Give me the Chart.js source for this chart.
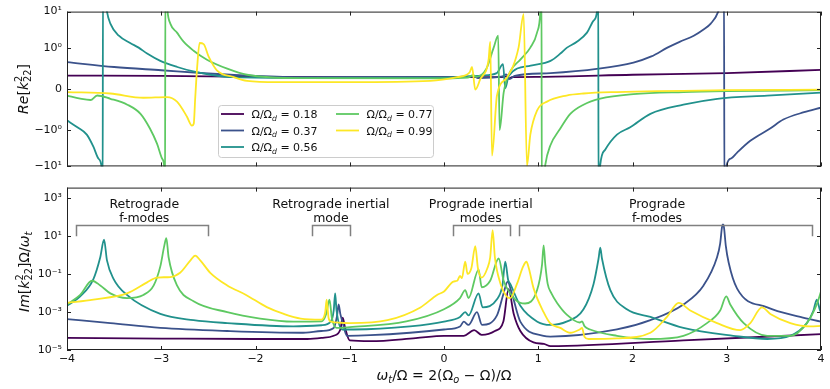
<!DOCTYPE html>
<html>
<head>
<meta charset="utf-8">
<script src="https://cdn.jsdelivr.net/npm/chart.js@4.4.1/dist/chart.umd.min.js"></script>
<style>
  html, body { margin: 0; padding: 0; background: #fff; }
  #wrap { position: relative; width: 830px; height: 389px; }
  #chartRe { position: absolute; left: 0; top: 0; }
  #chartIm { position: absolute; left: 0; top: 176px; }
</style>
</head>
<body>
<div id="wrap">
  <canvas id="chartRe" width="830" height="178"></canvas>
  <canvas id="chartIm" width="830" height="213"></canvas>
</div>
<script>
// ---- data ----
const omegaRatios = [0.18, 0.37, 0.56, 0.77, 0.99];

const xTicks = [-4, -3, -2, -1, 0, 1, 2, 3, 4];
const reTicks = [-10, -1, 0, 1, 10];
const reTickLabels = ['\u221210\u00b9', '\u221210\u2070', '0', '10\u2070', '10\u00b9'];
const imTicks = [1e-5, 1e-3, 1e-1, 1e1, 1e3];
const imTickLabels = ['10\u207b\u2075', '10\u207b\u00b3', '10\u207b\u00b9', '10\u00b9', '10\u00b3'];

// Re[k22] (top panel), [x, y]
const re018 = [[-4,0.33],[-3,0.32],[-2,0.30],[-1,0.29],[0,0.29],[0.6,0.29],[0.66,0.31],[0.69,0.25],[0.72,0.29],[1,0.30],[2,0.35],[3,0.39],[4,0.47]];
const re037 = [[-4,0.66],[-3.5,0.54],[-3,0.46],[-2.5,0.38],[-2,0.32],[-1.5,0.29],[0,0.29],[0.32,0.31],[0.36,0.27],[0.62,0.31],[0.66,0.36],[0.70,0.25],[0.75,0.32],[1.13,0.39],[1.64,0.5],[2.01,0.65],[2.2,0.8],[2.37,1.04],[2.5,1.5],[2.65,2.2],[2.75,3.2],[2.83,4.7],[2.91,10],[2.95,25],[2.970,80],[2.976,-80],[3.0,-9],[3.05,-6],[3.11,-4.2],[3.25,-2.0],[3.46,-0.97],[3.6,-0.75],[3.82,-0.57],[4.0,-0.46]];
const re056 = [[-4,-0.77],[-3.89,-0.94],[-3.79,-1.36],[-3.72,-2.9],[-3.665,-6.2],[-3.63,-12],[-3.622,-80],[-3.618,80],[-3.576,10],[-3.54,4.7],[-3.45,2.2],[-3.33,1.39],[-3.24,1.04],[-3.15,0.87],[-3.01,0.69],[-2.83,0.54],[-2.66,0.43],[-2.48,0.35],[-2.23,0.29],[-1.5,0.27],[0,0.28],[0.4,0.33],[0.56,0.39],[0.626,0.61],[0.65,0.02],[0.686,0.32],[0.92,0.575],[1.13,0.69],[1.235,0.87],[1.305,1.04],[1.41,1.51],[1.517,2.67],[1.587,5.7],[1.623,10],[1.636,80],[1.640,-80],[1.658,-9],[1.71,-3.5],[1.835,-1.36],[1.976,-0.94],[2.19,-0.61],[2.54,-0.385],[2.9,-0.24],[3.43,-0.164],[4.0,-0.09]];
const re077 = [[-4,-0.164],[-3.86,-0.237],[-3.75,-0.27],[-3.68,-0.16],[-3.54,-0.24],[-3.36,-0.385],[-3.22,-0.61],[-3.12,-0.97],[-3.045,-2.4],[-2.99,-6.2],[-2.968,-10.5],[-2.960,-80],[-2.956,80],[-2.933,10],[-2.904,4.7],[-2.833,2.67],[-2.763,1.51],[-2.657,0.94],[-2.515,0.72],[-2.3,0.5],[-2.09,0.35],[-1.52,0.265],[0,0.26],[0.25,0.28],[0.31,0.34],[0.34,0.3],[0.45,0.5],[0.527,1.04],[0.575,2.2],[0.59,-1.02],[0.633,-0.09],[0.703,0.43],[0.81,0.72],[0.916,1.04],[0.987,2.67],[1.022,10],[1.034,80],[1.038,-80],[1.075,-9],[1.128,-2.7],[1.234,-0.97],[1.34,-0.61],[1.48,-0.385],[1.658,-0.237],[2.01,-0.126],[2.54,-0.075],[3.0,-0.053],[4.0,-0.03]];
const re099 = [[-4,-0.075],[-3.54,-0.11],[-3.19,-0.215],[-2.94,-0.2],[-2.833,-0.31],[-2.727,-0.68],[-2.674,-0.9],[-2.655,-0.85],[-2.64,-0.24],[-2.62,0.5],[-2.593,1.39],[-2.55,1.3],[-2.498,0.8],[-2.41,0.46],[-2.23,0.29],[-2.09,0.2],[-1.77,0.17],[-1,0.17],[-0.145,0.2],[0.138,0.29],[0.27,0.4],[0.297,0.54],[0.332,-0.015],[0.385,0.24],[0.473,0.72],[0.491,1.51],[0.509,-5.1],[0.562,-0.16],[0.668,0.28],[0.791,1.04],[0.845,8.5],[0.88,-9.5],[0.916,-1.36],[0.987,-0.53],[1.093,-0.31],[1.3,-0.16],[1.48,-0.11],[1.835,-0.075],[3,-0.03],[4,-0.015]];

// Im[k22] Omega/omega_t (bottom panel), [x, y]
const im018 = [[-4,4.3e-5],[-3,4.0e-5],[-2,3.8e-5],[-1.45,3.8e-5],[-1.3,4.3e-5],[-1.17,5.6e-5],[-1.1,1.2e-4],[-1.075,5.0e-4],[-1.05,1.5e-4],[-1.0,3.2e-5],[-0.78,2.9e-5],[-0.3,4.2e-5],[0,5.5e-5],[0.21,5.6e-5],[0.32,1.1e-4],[0.4,6.3e-5],[0.54,1.0e-4],[0.63,3.2e-4],[0.685,1.6e-2],[0.74,7.9e-4],[0.81,1.0e-4],[0.95,2.5e-5],[1.06,2.1e-5],[1.13,1.6e-5],[2.54,3.2e-5],[4,6.8e-5]];
const im037 = [[-4,4.2e-4],[-3.54,2.6e-4],[-3.01,1.45e-4],[-2.3,1.0e-4],[-1.52,8.1e-5],[-1.3,1.0e-4],[-1.17,1.45e-4],[-1.135,6.3e-4],[-1.118,2.5e-3],[-1.1,7.9e-4],[-1.082,3.7e-4],[-1.03,5.6e-5],[-0.78,6.0e-5],[-0.36,8.1e-5],[0,1.2e-4],[0.17,1.74e-4],[0.21,3.1e-4],[0.26,2.1e-4],[0.35,9.8e-4],[0.403,2.1e-4],[0.562,6.6e-4],[0.632,9.5e-3],[0.675,4.0e-2],[0.72,9.5e-3],[0.81,3.1e-4],[1.057,5.6e-5],[1.128,5.1e-5],[1.835,1.2e-4],[2.19,3.7e-4],[2.54,2.5e-3],[2.754,2.5e-2],[2.897,0.76],[2.93,4],[2.95,30],[2.96,40],[2.97,30],[2.99,3],[3.02,0.4],[3.11,1.7e-2],[3.43,1.74e-3],[3.78,5.5e-4],[4.0,3.1e-4]];
const im056 = [[-4,2.1e-3],[-3.86,6.6e-3],[-3.72,5.4e-2],[-3.647,0.76],[-3.607,6.3],[-3.576,0.52],[-3.505,5.4e-2],[-3.364,7.9e-3],[-3.01,7.9e-4],[-2.657,3.7e-4],[-2.3,2.6e-4],[-1.6,1.74e-4],[-1.3,2.0e-4],[-1.2,3.2e-4],[-1.17,1.2e-3],[-1.155,9.5e-3],[-1.14,1.2e-3],[-1.08,1.2e-4],[-0.96,1.2e-4],[-0.36,1.74e-4],[0,3.1e-4],[0.17,5.5e-4],[0.225,9.8e-4],[0.26,6.6e-4],[0.367,9.5e-3],[0.41,1.74e-3],[0.56,4.5e-3],[0.62,2.5e-2],[0.65,0.44],[0.68,5.0e-2],[0.703,3.0e-2],[0.81,2.1e-3],[0.99,3.1e-4],[1.13,2.1e-4],[1.3,3.1e-4],[1.48,1.4e-3],[1.587,3.0e-2],[1.64,0.65],[1.658,2.4],[1.676,0.65],[1.765,1.4e-2],[1.94,1.4e-3],[2.19,5.5e-4],[2.54,1.45e-4],[3.07,5.6e-5],[3.43,3.8e-5],[3.675,5.6e-5],[3.85,2.6e-4],[3.92,1.2e-3],[3.955,4.5e-3],[3.99,1.2e-3],[4.0,1.0e-3]];
const im077 = [[-4,2.5e-3],[-3.86,7.9e-3],[-3.735,4.4e-2],[-3.647,2.5e-2],[-3.54,9.5e-3],[-3.364,5.4e-3],[-3.19,7.9e-3],[-3.08,2.5e-2],[-3.01,0.25],[-2.968,3.0],[-2.946,7.6],[-2.922,0.76],[-2.833,2.5e-2],[-2.657,3.7e-3],[-2.3,9.8e-4],[-1.95,4.5e-4],[-1.6,3.1e-4],[-1.3,3.2e-4],[-1.25,7.9e-4],[-1.215,4.5e-3],[-1.19,5.0e-4],[-1.14,1.45e-4],[-1.0,1.6e-4],[-0.4,3.2e-4],[0,1.4e-3],[0.17,5.4e-3],[0.225,1.4e-2],[0.26,5.4e-3],[0.367,0.17],[0.4,2.0e-2],[0.49,4.4e-2],[0.58,0.65],[0.633,4.4e-2],[0.703,9.5e-3],[0.81,3.0e-3],[0.86,2.8e-3],[0.987,1.4e-2],[1.04,0.3],[1.057,3.2],[1.075,0.3],[1.1,3.0e-2],[1.14,9.5e-3],[1.2,3.0e-3],[1.305,7.1e-4],[1.44,2.8e-4],[1.465,3.2e-4],[1.49,1.8e-4],[1.55,1.2e-4],[1.835,5.6e-5],[2.19,3.8e-5],[2.54,5.6e-5],[2.79,2.6e-4],[2.93,1.2e-3],[2.995,6.6e-3],[3.037,2.5e-3],[3.18,2.6e-4],[3.43,5.6e-5],[3.675,5.6e-5],[3.85,2.6e-4],[3.955,2.5e-3],[4.0,1.2e-2]];
const im099 = [[-4,3.0e-3],[-3.72,4.5e-3],[-3.364,9.5e-3],[-3.15,3.6e-2],[-3.045,6.5e-2],[-2.904,6.9e-2],[-2.8,0.115],[-2.69,0.52],[-2.64,0.93],[-2.586,0.52],[-2.48,0.115],[-2.3,2.5e-2],[-2.1,7.9e-3],[-1.88,1.8e-3],[-1.7,7.9e-4],[-1.52,4.5e-4],[-1.3,4.0e-4],[-1.26,1.0e-3],[-1.245,4.5e-3],[-1.225,5.0e-4],[-1.2,3.1e-4],[-1.0,2.6e-4],[-0.6,3.7e-4],[-0.25,1.74e-3],[-0.074,7.9e-3],[0,1.2e-2],[0.1,4.0e-2],[0.14,4.4e-2],[0.17,7.8e-2],[0.19,6.0e-2],[0.225,0.44],[0.25,0.1],[0.29,0.2],[0.332,2.9],[0.36,0.2],[0.4,6.5e-2],[0.46,0.2],[0.49,0.74],[0.516,20],[0.54,0.74],[0.6,3.0e-2],[0.66,7.0e-3],[0.703,5.4e-3],[0.774,3.0e-2],[0.84,0.25],[0.874,0.44],[0.9,0.2],[0.95,1.8e-2],[1.057,9.8e-4],[1.125,2.6e-4],[1.234,1.45e-4],[1.34,8.1e-5],[1.44,1.2e-4],[1.465,1.45e-4],[1.49,5.0e-5],[1.534,3.8e-5],[1.835,4.1e-5],[2.19,8.1e-5],[2.366,5.5e-4],[2.49,3.0e-3],[2.613,1.2e-3],[2.897,2.6e-4],[3.143,1.1e-4],[3.25,2.6e-4],[3.374,1.74e-3],[3.462,7.9e-4],[3.675,2.6e-4],[3.887,1.74e-4],[4.0,1.86e-4]];

// mode-group brackets in the bottom panel
const modeGroups = [
  { lines: ['Retrograde', 'f-modes'], from: -3.9, to: -2.5, textX: -3.18 },
  { lines: ['Retrograde inertial', 'mode'], from: -1.4, to: -1.0, textX: -1.2 },
  { lines: ['Prograde inertial', 'modes'], from: 0.1, to: 0.7, textX: 0.39 },
  { lines: ['Prograde', 'f-modes'], from: 0.8, to: 3.9, textX: 2.26 }
];
const bracketTop = 40;
const bracketFoot = 9.7;

// ---- styling ----
const lineColors = ['#440154', '#3b528b', '#21918c', '#5ec962', '#fde725'];
const FONT = 'DejaVu Sans';
Chart.defaults.font.family = FONT;
Chart.defaults.color = '#111';

// matplotlib style symlog (linthresh 1, linscale 1, base 10)
const LINSCALE = 1 / (1 - 1 / 10);
function symT(v) {
  const a = Math.abs(v);
  const t = a <= 1 ? a * LINSCALE : LINSCALE + Math.log10(a);
  return v < 0 ? -t : t;
}
function symInv(t) {
  const a = Math.abs(t);
  const v = a <= LINSCALE ? a / LINSCALE : Math.pow(10, a - LINSCALE);
  return t < 0 ? -v : v;
}

class SymlogScale extends Chart.Scale {
  determineDataLimits() {
    this.min = this.options.min;
    this.max = this.options.max;
  }
  buildTicks() {
    return reTicks.map(v => ({ value: v }));
  }
  getLabelForValue(v) {
    return String(v);
  }
  configure() {
    super.configure();
    this._tLo = symT(this.min);
    this._tHi = symT(this.max);
  }
  getPixelForValue(v) {
    return this.getPixelForDecimal((symT(v) - this._tLo) / (this._tHi - this._tLo));
  }
  getValueForPixel(p) {
    return symInv(this._tLo + this.getDecimalForPixel(p) * (this._tHi - this._tLo));
  }
}
SymlogScale.id = 'symlog';
SymlogScale.defaults = {};
Chart.register(SymlogScale);

function makeDatasets(series) {
  return series.map((pts, i) => ({
    label: '\u03a9/\u03a9d = ' + omegaRatios[i].toFixed(2),
    data: pts,
    borderColor: lineColors[i],
    backgroundColor: lineColors[i],
    borderWidth: 1.8,
    pointRadius: 0,
    fill: false,
    cubicInterpolationMode: 'monotone',
    order: series.length - i
  }));
}

// text with italic / sub / superscript pieces
function fontFor(p, size) {
  const s = p.pos ? size * 0.7 : size;
  return (p.it ? 'italic ' : '') + s + 'px "' + FONT + '"';
}
function drawRich(ctx, parts, x, y, size, align) {
  let w = 0;
  parts.forEach(p => {
    ctx.font = fontFor(p, size);
    if (p.adv !== false) w += ctx.measureText(p.t).width;
  });
  let cx = align === 'center' ? x - w / 2 : x;
  ctx.textAlign = 'left';
  ctx.textBaseline = 'alphabetic';
  parts.forEach(p => {
    ctx.font = fontFor(p, size);
    const dy = p.pos === 'sub' ? size * 0.24 : p.pos === 'sup' ? -size * 0.42 : 0;
    ctx.fillText(p.t, cx, y + dy);
    if (p.adv !== false) cx += ctx.measureText(p.t).width;
  });
}

const reTitle = [
  { t: 'Re', it: true }, { t: '[' }, { t: 'k', it: true },
  { t: '2', pos: 'sup', adv: false }, { t: '22', pos: 'sub' }, { t: ']' }
];
const imTitle = [
  { t: 'Im', it: true }, { t: '[' }, { t: 'k', it: true },
  { t: '2', pos: 'sup', adv: false }, { t: '22', pos: 'sub' }, { t: ']\u03a9/' },
  { t: '\u03c9', it: true }, { t: 't', it: true, pos: 'sub' }
];
const xTitle = [
  { t: '\u03c9', it: true }, { t: 't', it: true, pos: 'sub' },
  { t: '/\u03a9 = 2(\u03a9' }, { t: 'o', it: true, pos: 'sub' }, { t: ' \u2212 \u03a9)/\u03a9' }
];

function drawYTitle(ctx, parts, x, y) {
  ctx.save();
  ctx.fillStyle = '#111';
  ctx.translate(x, y);
  ctx.rotate(-Math.PI / 2);
  drawRich(ctx, parts, 0, 0, 14, 'center');
  ctx.restore();
}

function drawFrame(chart) {
  const { ctx, chartArea: a } = chart;
  const xs = chart.scales.x, ys = chart.scales.y;
  ctx.save();
  ctx.strokeStyle = '#222';
  ctx.lineWidth = 1;
  ctx.strokeRect(a.left + 0.5, a.top + 0.5, a.right - a.left - 1, a.bottom - a.top - 1);
  ctx.beginPath();
  xTicks.forEach(v => {
    const px = Math.round(xs.getPixelForValue(v)) + 0.5;
    ctx.moveTo(px, a.bottom); ctx.lineTo(px, a.bottom - 4);
    ctx.moveTo(px, a.top); ctx.lineTo(px, a.top + 4);
  });
  ys.ticks.forEach(t => {
    const py = Math.round(ys.getPixelForValue(t.value)) + 0.5;
    ctx.moveTo(a.left, py); ctx.lineTo(a.left + 4, py);
    ctx.moveTo(a.right, py); ctx.lineTo(a.right - 4, py);
  });
  ctx.stroke();
  ctx.restore();
}

const reDecor = {
  id: 'reDecor',
  afterDraw(chart) {
    const { ctx, chartArea: a } = chart;
    drawFrame(chart);
    drawYTitle(ctx, reTitle, 28, (a.top + a.bottom) / 2);

    // legend, two columns filled column-first
    ctx.save();
    ctx.fillStyle = 'rgba(255,255,255,0.85)';
    ctx.strokeStyle = '#cccccc';
    ctx.lineWidth = 1;
    ctx.beginPath();
    ctx.roundRect(218.5, 105.5, 215, 52, 3);
    ctx.fill();
    ctx.stroke();
    const colLine = [221, 336];
    const colText = [251.5, 366.5];
    const rowY = [114, 130.5, 147];
    chart.data.datasets.forEach((ds, i) => {
      const col = i < 3 ? 0 : 1;
      const row = i < 3 ? i : i - 3;
      ctx.strokeStyle = ds.borderColor;
      ctx.lineWidth = 1.8;
      ctx.beginPath();
      ctx.moveTo(colLine[col], rowY[row]);
      ctx.lineTo(colLine[col] + 23, rowY[row]);
      ctx.stroke();
      ctx.fillStyle = '#111';
      drawRich(ctx, [
        { t: '\u03a9/\u03a9' }, { t: 'd', it: true, pos: 'sub' },
        { t: ' = ' + omegaRatios[i].toFixed(2) }
      ], colText[col], rowY[row] + 4, 11, 'left');
    });
    ctx.restore();
  }
};

const imDecor = {
  id: 'imDecor',
  afterDraw(chart) {
    const { ctx, chartArea: a } = chart;
    const xs = chart.scales.x, ys = chart.scales.y;
    drawFrame(chart);
    drawYTitle(ctx, imTitle, 28.5, (a.top + a.bottom) / 2 + 3);

    ctx.save();
    ctx.fillStyle = '#111';
    drawRich(ctx, xTitle, (a.left + a.right) / 2, 204, 14, 'center');

    const yTop = Math.round(ys.getPixelForValue(bracketTop)) + 0.5;
    const yFoot = ys.getPixelForValue(bracketFoot);
    modeGroups.forEach(g => {
      const x0 = Math.round(xs.getPixelForValue(g.from)) + 0.5;
      const x1 = Math.round(xs.getPixelForValue(g.to)) + 0.5;
      ctx.strokeStyle = '#808080';
      ctx.lineWidth = 1.5;
      ctx.beginPath();
      ctx.moveTo(x0, yFoot);
      ctx.lineTo(x0, yTop);
      ctx.lineTo(x1, yTop);
      ctx.lineTo(x1, yFoot);
      ctx.stroke();
      ctx.font = '12.5px "' + FONT + '"';
      ctx.fillStyle = '#111';
      ctx.textAlign = 'center';
      ctx.textBaseline = 'alphabetic';
      const tx = xs.getPixelForValue(g.textX);
      ctx.fillText(g.lines[0], tx, yTop - 17.5);
      ctx.fillText(g.lines[1], tx, yTop - 4);
    });
    ctx.restore();
  }
};

const minusLabel = v => (v < 0 ? '\u2212' + Math.abs(v) : String(v));

new Chart(document.getElementById('chartRe').getContext('2d'), {
  type: 'line',
  data: { datasets: makeDatasets([re018, re037, re056, re077, re099]) },
  options: {
    responsive: false,
    animation: false,
    events: [],
    layout: { padding: { left: 0, right: 9, top: 3, bottom: 4 } },
    plugins: { legend: { display: false }, tooltip: { enabled: false } },
    scales: {
      x: { type: 'linear', min: -4, max: 4, display: false },
      y: {
        type: 'symlog', min: -10, max: 10,
        grid: { display: false, drawTicks: false },
        border: { display: false },
        ticks: { autoSkip: false, padding: 5, font: { size: 11 }, color: '#111',
                 callback: (v, i) => reTickLabels[i] },
        afterFit: s => { s.width = 67; }
      }
    }
  },
  plugins: [reDecor]
});

new Chart(document.getElementById('chartIm').getContext('2d'), {
  type: 'line',
  data: { datasets: makeDatasets([im018, im037, im056, im077, im099]) },
  options: {
    responsive: false,
    animation: false,
    events: [],
    layout: { padding: { left: 0, right: 9, top: 2, bottom: 0 } },
    plugins: { legend: { display: false }, tooltip: { enabled: false } },
    scales: {
      x: {
        type: 'linear', min: -4, max: 4,
        grid: { display: false, drawTicks: false },
        border: { display: false },
        ticks: { stepSize: 1, autoSkip: false, maxRotation: 0, padding: 3,
                 font: { size: 11 }, color: '#111', callback: minusLabel },
        afterFit: s => { s.height = 39; }
      },
      y: {
        type: 'logarithmic', min: 1e-5, max: 3500,
        grid: { display: false, drawTicks: false },
        border: { display: false },
        afterBuildTicks: s => { s.ticks = imTicks.map(v => ({ value: v })); },
        ticks: { autoSkip: false, padding: 5, font: { size: 11 }, color: '#111',
                 callback: (v, i) => imTickLabels[i] },
        afterFit: s => { s.width = 67; }
      }
    }
  },
  plugins: [imDecor]
});
</script>
</body>
</html>
